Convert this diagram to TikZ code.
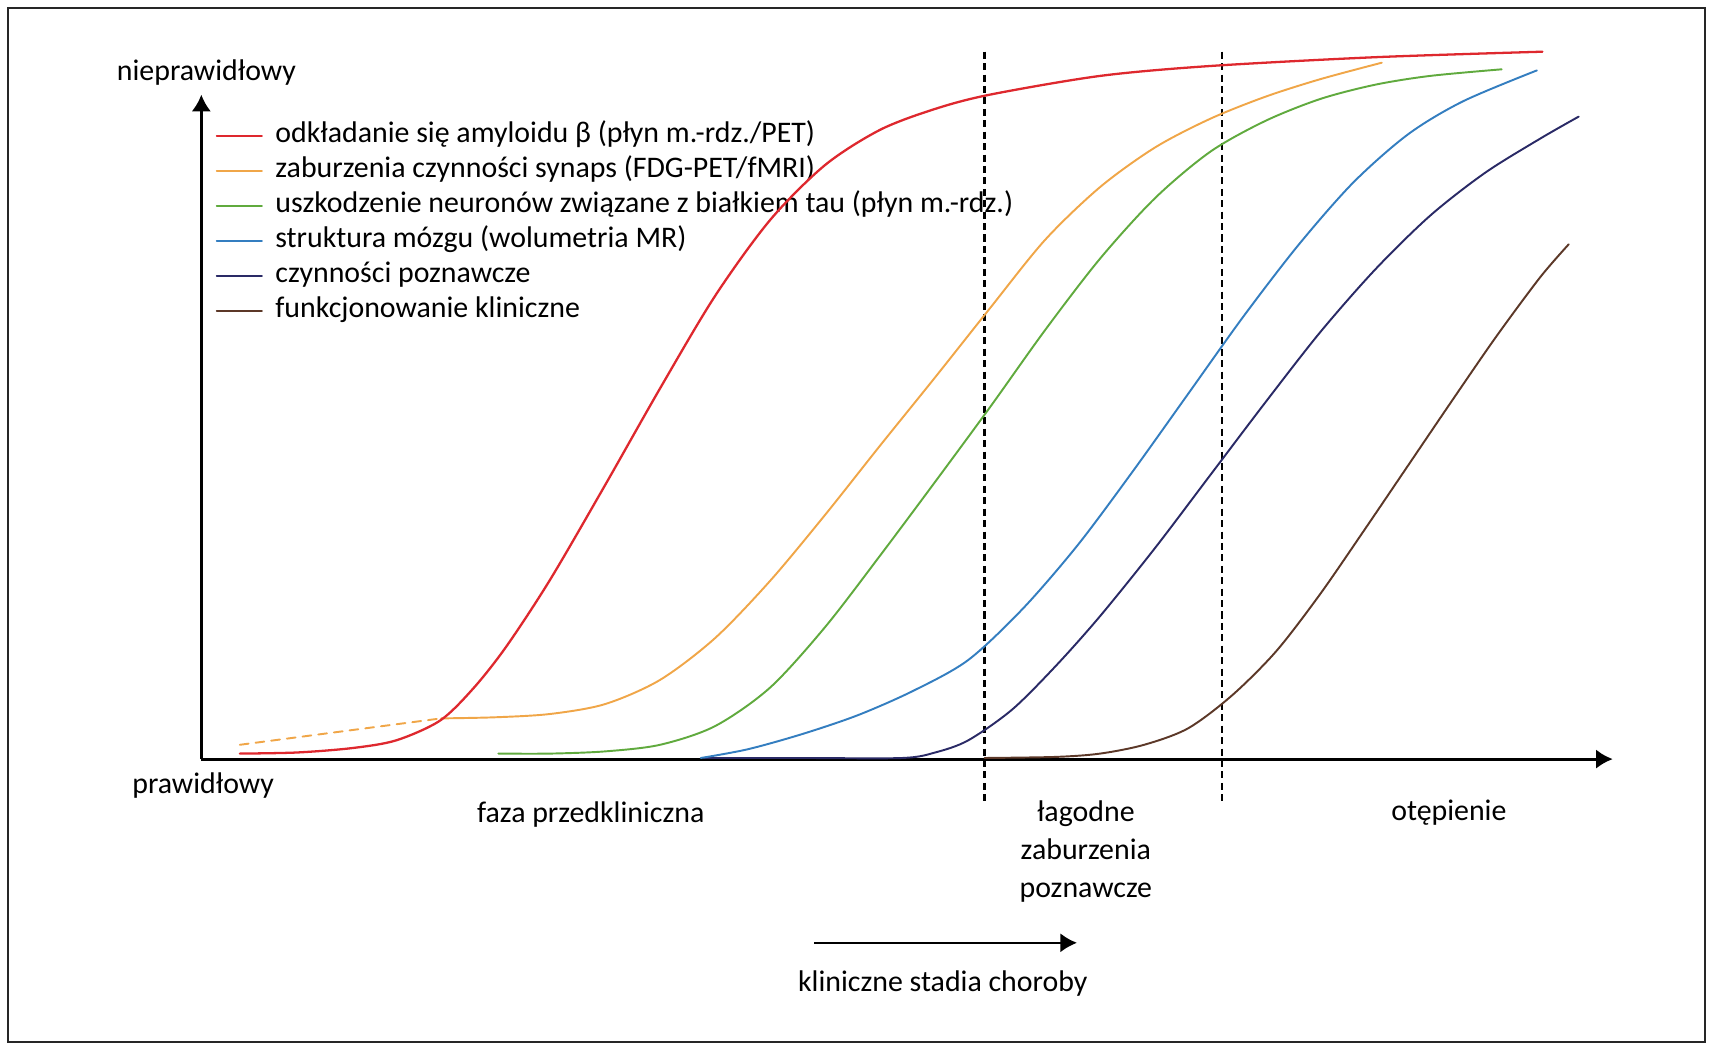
\documentclass[tikz,border=0pt]{standalone}
\usepackage{fontspec}
\setmainfont{Carlito}
\usetikzlibrary{positioning,arrows.meta,calc}

\definecolor{amyred}{RGB}{222,40,46}
\definecolor{synorange}{RGB}{240,166,72}
\definecolor{taugreen}{RGB}{96,170,62}
\definecolor{mrblue}{RGB}{52,126,192}
\definecolor{cognavy}{RGB}{42,42,102}
\definecolor{clinbrown}{RGB}{92,56,40}

\begin{document}
\begin{tikzpicture}[
        x=0.22mm, y=-0.22mm,
        tag/.style={font=\fontsize{17}{21.5}\selectfont, inner sep=0pt},
        item/.style={tag, anchor=west, text height=13pt, text depth=6.5pt},
        curve/.style={line width=1.1pt, line cap=round, line join=round},
        axisline/.style={line width=1.6pt, -{Latex[length=9.5pt,width=11pt]}},
        phase/.style={line width=1.4pt, dash pattern=on 4pt off 2.5pt}
      ]

      \useasboundingbox (0,0) rectangle (1568,950);
      \draw[line width=1.3pt, black!85] (7,7) rectangle (1550,947);

      % axes
      \coordinate (o) at (183,690);
      \coordinate (ytip) at (183,86);
      \coordinate (xtip) at (1466,690);
      \draw[axisline] (o) -- (ytip);
      \draw[axisline] (o) -- (xtip);
      \node (hi) [tag, anchor=west] at (106,66) {nieprawidłowy};
      \node (lo) [tag, anchor=west] at (120,714) {prawidłowy};

      % stage borders
      \coordinate (m1) at (895,47);
      \coordinate (m2) at (895,729);
      \coordinate (d1) at (1111,47);
      \coordinate (d2) at (1111,729);
      \draw[phase] (m1) -- (m2);
      \draw[phase] (d1) -- (d2);

      \node (pre) [tag] at (537,740) {faza przedkliniczna};
      \node (mci) [tag, align=center, anchor=north] at (987,728) {łagodne\\zaburzenia\\poznawcze};
      \node (dem) [tag] at (1317,739) {otępienie};
      \node (stg) [tag] at (857,894) {kliniczne stadia choroby};
      \coordinate (s1) at (740,857);
      \coordinate (s2) at (979,857);
      \draw[axisline, line width=1.4pt] (s1) -- (s2);

      % legend
      \node (l1) [item] at (250,124) {odkładanie się amyloidu β (płyn m.-rdz./PET)};
      \node (l2) [item, below=0pt of l1.south west, anchor=north west] {zaburzenia czynności synaps (FDG-PET/fMRI)};
      \node (l3) [item, below=0pt of l2.south west, anchor=north west] {uszkodzenie neuronów związane z białkiem tau (płyn m.-rdz.)};
      \node (l4) [item, below=0pt of l3.south west, anchor=north west] {struktura mózgu (wolumetria MR)};
      \node (l5) [item, below=0pt of l4.south west, anchor=north west] {czynności poznawcze};
      \node (l6) [item, below=0pt of l5.south west, anchor=north west] {funkcjonowanie kliniczne};

      \draw[curve, amyred] ($(l1.west)+(-53,0)$) -- ($(l1.west)+(-12,0)$);
      \draw[curve, synorange] ($(l2.west)+(-53,0)$) -- ($(l2.west)+(-12,0)$);
      \draw[curve, taugreen] ($(l3.west)+(-53,0)$) -- ($(l3.west)+(-12,0)$);
      \draw[curve, mrblue] ($(l4.west)+(-53,0)$) -- ($(l4.west)+(-12,0)$);
      \draw[curve, cognavy] ($(l5.west)+(-53,0)$) -- ($(l5.west)+(-12,0)$);
      \draw[curve, clinbrown] ($(l6.west)+(-53,0)$) -- ($(l6.west)+(-12,0)$);

      % biomarker curves
      \draw[curve, synorange, dash pattern=on 5pt off 4pt] (218,677) -- (401,653);
      \draw[curve, clinbrown] plot[smooth, tension=0.5] coordinates {(895,689) (960,688) (1000,685) (1040,677) (1080,662) (1120,632) (1160,592) (1200,540) (1240,482) (1280,423) (1320,364) (1360,306) (1400,252) (1426,222)};
      \draw[curve, cognavy] plot[smooth, tension=0.5] coordinates {(640,689) (730,689) (820,689) (850,684) (880,673) (920,645) (960,605) (1000,560) (1050,498) (1100,432) (1150,366) (1200,302) (1250,245) (1300,196) (1350,157) (1400,126) (1435,106)};
      \draw[curve, mrblue] plot[smooth, tension=0.5] coordinates {(637,689) (680,681) (730,667) (780,650) (830,628) (880,600) (930,553) (980,495) (1030,428) (1080,358) (1130,288) (1180,223) (1230,166) (1280,122) (1330,92) (1397,64)};
      \draw[curve, taugreen] plot[smooth, tension=0.5] coordinates {(453,685) (500,685) (550,683) (600,677) (650,660) (700,625) (750,570) (800,505) (850,438) (900,370) (950,300) (1000,235) (1050,180) (1100,138) (1150,110) (1200,90) (1250,77) (1300,69) (1365,63)};
      \draw[curve, synorange] plot[smooth, tension=0.5] coordinates {(401,653) (450,652) (500,649) (550,640) (600,618) (650,580) (700,528) (750,468) (800,405) (850,343) (900,280) (950,218) (1000,170) (1050,134) (1100,108) (1150,88) (1200,72) (1256,57)};
      \draw[curve, amyred, line width=1.3pt] plot[smooth, tension=0.5] coordinates {(218,685) (270,684) (320,680) (360,673) (400,655) (430,626) (460,588) (500,527) (550,441) (600,353) (650,269) (700,200) (750,150) (800,118) (850,99) (900,86) (1000,69) (1100,60) (1250,52) (1402,47)};

    \end{tikzpicture}
\end{document}
